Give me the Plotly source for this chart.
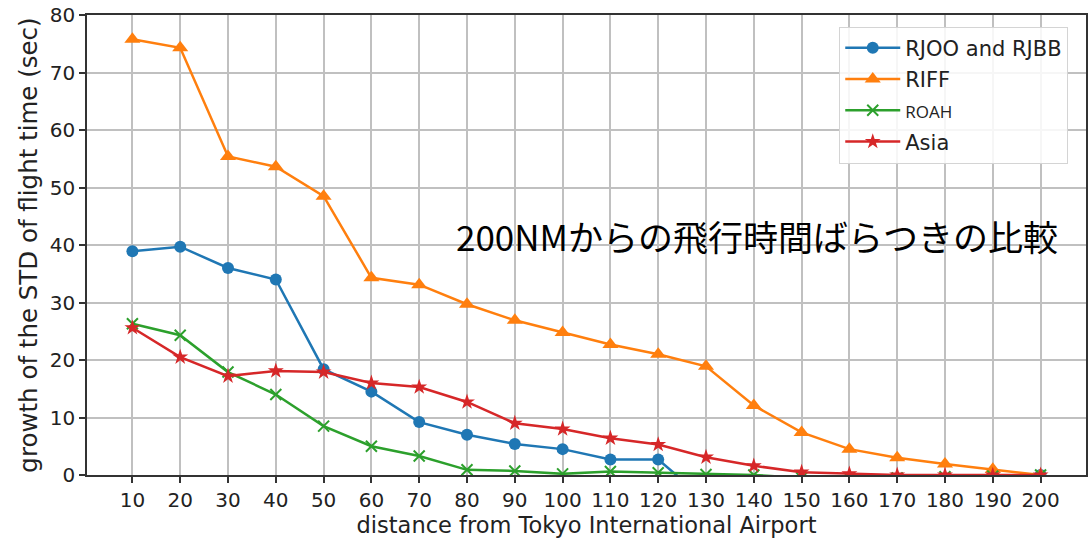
import plotly.graph_objects as go

# distance from Tokyo International Airport (NM)
distance = [10, 20, 30, 40, 50, 60, 70, 80, 90, 100,
            110, 120, 130, 140, 150, 160, 170, 180, 190, 200]

# growth of the STD of flight time (sec)
rjoo_rjbb = [38.9, 39.7, 36.0, 34.0, 18.4, 14.5, 9.2, 7.0, 5.4, 4.5,
             2.7, 2.7, -4.4, -5.0, -5.0, -5.0, -5.0, -4.0, -2.0, 0.0]
riff = [75.8, 74.3, 55.4, 53.6, 48.5, 34.3, 33.1, 29.7, 26.9, 24.8,
        22.7, 21.0, 18.9, 12.1, 7.4, 4.5, 3.0, 1.9, 1.0, 0.0]
roah = [26.3, 24.3, 17.9, 14.0, 8.5, 5.0, 3.3, 0.9, 0.7, 0.2,
        0.6, 0.4, 0.1, 0.0, -0.5, -0.5, -0.5, -0.3, -0.2, 0.0]
asia = [25.6, 20.5, 17.2, 18.1, 17.9, 16.0, 15.3, 12.7, 9.0, 8.0,
        6.4, 5.3, 3.1, 1.6, 0.5, 0.2, 0.0, 0.0, 0.0, 0.0]

y_ticks = [0, 10, 20, 30, 40, 50, 60, 70, 80]

series = [
    ("RJOO and RJBB", rjoo_rjbb, "#1f77b4", dict(symbol="circle", size=12)),
    ("RIFF", riff, "#ff7f0e", dict(symbol="triangle-up", size=14)),
    ('<span style="font-family:Open Sans;font-size:17px">ROAH</span>', roah, "#2ca02c",
     dict(symbol="x-thin-open", size=11, line=dict(width=2, color="#2ca02c"))),
    ("Asia", asia, "#d62728", dict(symbol="star", size=12)),
]

fig = go.Figure()
for i, (name, vals, color, marker) in enumerate(series):
    fig.add_trace(go.Scatter(
        x=distance, y=vals, mode="lines+markers", name=name,
        legendgroup=f"g{i}",
        line=dict(color=color, width=2.5),
        marker=dict(color=color, **marker),
    ))

fig.add_annotation(
    text="200NMからの飛行時間ばらつきの比較",
    xref="paper", yref="y", x=0.367, y=41.6, xanchor="left", yanchor="middle",
    showarrow=False,
    font=dict(family="Noto Sans CJK JP", size=35, color="black"),
)

axis_common = dict(
    showline=True, mirror=True, linecolor="#333333", linewidth=1.5,
    showgrid=True, gridcolor="#c0c0c0", gridwidth=1.5,
    ticks="outside", ticklen=6, tickwidth=1.5, tickcolor="#333333",
    zeroline=False,
    tickfont=dict(family="DejaVu Sans", size=20, color="#222222"),
)

fig.update_xaxes(
    range=[0.5, 209.5], tickmode="array", tickvals=distance,
    ticktext=[str(d) for d in distance],
    title_text="distance from Tokyo International Airport", title_standoff=4,
    title_font=dict(family="DejaVu Sans", size=22.5, color="#222222"),
    **axis_common,
)
fig.update_yaxes(
    range=[0, 80], tickmode="array", tickvals=y_ticks,
    title_text="growth of the STD of flight time (sec)", title_standoff=5,
    title_font=dict(family="DejaVu Sans", size=24.5, color="#222222"),
    **axis_common,
)

fig.update_layout(
    width=1090, height=544,
    margin=dict(l=87, r=2, t=15, b=69),
    paper_bgcolor="white", plot_bgcolor="white",
    legend=dict(
        x=0.753, y=0.975, xanchor="left", yanchor="top",
        bgcolor="rgba(255,255,255,0.85)", bordercolor="#d4d4d4", borderwidth=1,
        font=dict(family="DejaVu Sans", size=21, color="#222222"),
        itemwidth=55, tracegroupgap=1,
    ),
)

fig.write_html("out.html")
